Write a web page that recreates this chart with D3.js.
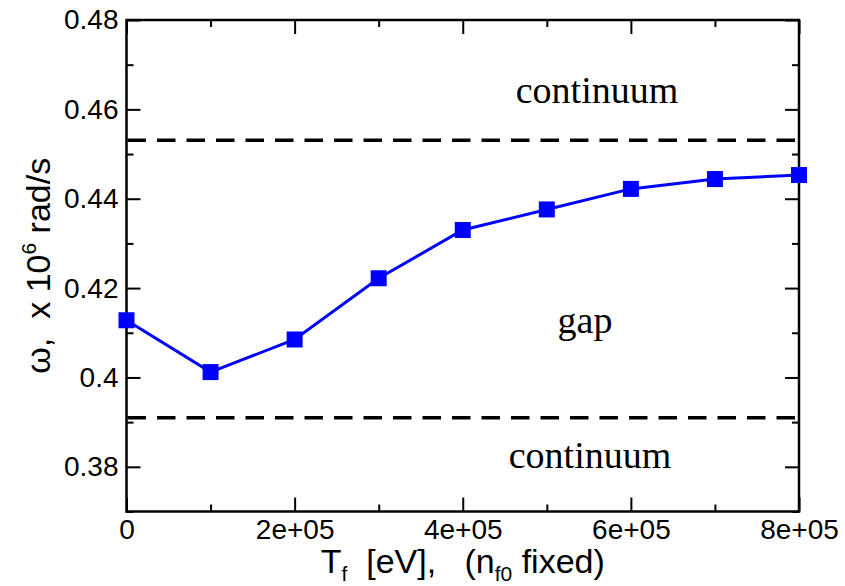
<!DOCTYPE html>
<html>
<head>
<meta charset="utf-8">
<script src="https://cdn.jsdelivr.net/npm/d3@7"></script>
<style>
  html, body { margin: 0; padding: 0; background: #fff; }
  svg { display: block; }
  text { fill: #000; }
</style>
</head>
<body>
<svg id="chart" width="845" height="586"></svg>
<script>
// ---- data ----
const tempValues = [0, 100000, 200000, 300000, 400000, 500000, 600000, 700000, 800000];
const omegaValues = [0.4128, 0.4012, 0.4085, 0.4222, 0.4330, 0.4376, 0.4422, 0.4444, 0.4453];
const gapUpper = 0.4531;
const gapLower = 0.3910;
const xTickValues = [0, 200000, 400000, 600000, 800000];
const xTickLabels = ["0", "2e+05", "4e+05", "6e+05", "8e+05"];
const xMinorValues = [100000, 300000, 500000, 700000];
const yTickValues = [0.38, 0.40, 0.42, 0.44, 0.46, 0.48];
const yTickLabels = ["0.38", "0.4", "0.42", "0.44", "0.46", "0.48"];
const yMinorValues = [0.37, 0.39, 0.41, 0.43, 0.45, 0.47];
const xDomain = [0, 800000];
const yDomain = [0.37, 0.48];

// ---- layout ----
const L = 126.5, R = 799, T = 20, B = 511.5;
const svg = d3.select("#chart");
const x = d3.scaleLinear().domain(xDomain).range([L, R]);
const y = d3.scaleLinear().domain(yDomain).range([B, T]);
const tickFont = "Liberation Sans, Arial, sans-serif";

function styleAxis(g) {
  g.select(".domain").remove();
  g.selectAll(".tick line").attr("stroke", "#000").attr("stroke-width", 2);
  g.selectAll(".tick text").attr("font-family", tickFont).attr("font-size", 28).attr("fill", "#000");
}

// bottom major + labels
svg.append("g").attr("transform", `translate(0,${B})`)
  .call(d3.axisBottom(x).tickValues(xTickValues).tickFormat((d, i) => xTickLabels[i]).tickSize(-14).tickPadding(6))
  .call(styleAxis)
  .call(g => g.selectAll(".tick text").attr("dy", "0.78em").attr("y", 6));
svg.append("g").attr("transform", `translate(0,${B})`)
  .call(d3.axisBottom(x).tickValues(xMinorValues).tickFormat("").tickSize(-7))
  .call(styleAxis);
// top mirrored
svg.append("g").attr("transform", `translate(0,${T})`)
  .call(d3.axisTop(x).tickValues(xTickValues).tickFormat("").tickSize(-14))
  .call(styleAxis);
svg.append("g").attr("transform", `translate(0,${T})`)
  .call(d3.axisTop(x).tickValues(xMinorValues).tickFormat("").tickSize(-7))
  .call(styleAxis);
// left
svg.append("g").attr("transform", `translate(${L},0)`)
  .call(d3.axisLeft(y).tickValues(yTickValues).tickFormat((d, i) => yTickLabels[i]).tickSize(-14).tickPadding(8))
  .call(styleAxis);
svg.append("g").attr("transform", `translate(${L},0)`)
  .call(d3.axisLeft(y).tickValues(yMinorValues).tickFormat("").tickSize(-7))
  .call(styleAxis);
// right mirrored
svg.append("g").attr("transform", `translate(${R},0)`)
  .call(d3.axisRight(y).tickValues(yTickValues).tickFormat("").tickSize(-14))
  .call(styleAxis);
svg.append("g").attr("transform", `translate(${R},0)`)
  .call(d3.axisRight(y).tickValues(yMinorValues).tickFormat("").tickSize(-7))
  .call(styleAxis);

// frame
svg.append("rect").attr("x", L).attr("y", T).attr("width", R - L).attr("height", B - T)
  .attr("fill", "none").attr("stroke", "#000").attr("stroke-width", 2.5);

// dashed gap boundaries
[gapUpper, gapLower].forEach(v => {
  svg.append("line").attr("x1", L + 1).attr("x2", R - 3).attr("y1", y(v)).attr("y2", y(v))
    .attr("stroke", "#000").attr("stroke-width", 3.5).attr("stroke-dasharray", "18.5,11");
});

// series
const pts = tempValues.map((t, i) => [t, omegaValues[i]]);
svg.append("path").datum(pts)
  .attr("fill", "none").attr("stroke", "#0000ff").attr("stroke-width", 3)
  .attr("d", d3.line().x(d => x(d[0])).y(d => y(d[1])));
const ms = 16;
svg.selectAll("rect.mk").data(pts).enter().append("rect").attr("class", "mk")
  .attr("x", d => x(d[0]) - ms / 2).attr("y", d => y(d[1]) - ms / 2)
  .attr("width", ms).attr("height", ms).attr("fill", "#0000ff");

// annotations
const serif = "Liberation Serif, Times New Roman, serif";
svg.append("text").attr("x", 597).attr("y", 103).attr("text-anchor", "middle")
  .attr("font-family", serif).attr("font-size", 38).text("continuum");
svg.append("text").attr("x", 585).attr("y", 333).attr("text-anchor", "middle")
  .attr("font-family", serif).attr("font-size", 38).text("gap");
svg.append("text").attr("x", 590).attr("y", 468).attr("text-anchor", "middle")
  .attr("font-family", serif).attr("font-size", 38).text("continuum");

// x title
const xt = svg.append("text").attr("x", (L + R) / 2).attr("y", 573).attr("text-anchor", "middle")
  .attr("font-family", tickFont).attr("font-size", 34).attr("xml:space", "preserve");
xt.append("tspan").text("T");
xt.append("tspan").attr("font-size", 21).attr("dy", 8).text("f");
xt.append("tspan").attr("dy", -8).text("  [eV],   (n");
xt.append("tspan").attr("font-size", 21).attr("dy", 8).text("f0");
xt.append("tspan").attr("dy", -8).text(" fixed)");

// y title
const yt = svg.append("text").attr("transform", `translate(50,${(T + B) / 2}) rotate(-90)`)
  .attr("text-anchor", "middle").attr("font-family", tickFont).attr("font-size", 34)
  .attr("xml:space", "preserve");
yt.append("tspan").text("ω,  x 10");
yt.append("tspan").attr("font-size", 21).attr("dy", -14).text("6");
yt.append("tspan").attr("dy", 14).text(" rad/s");
</script>
</body>
</html>
